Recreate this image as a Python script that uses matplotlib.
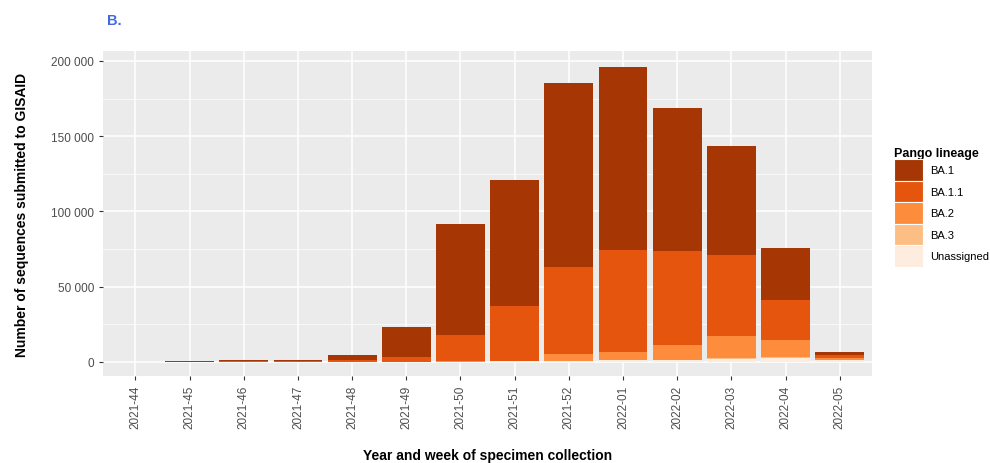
import matplotlib.pyplot as plt
import matplotlib.patches as mpatches
from matplotlib.ticker import FuncFormatter, MultipleLocator
import numpy as np

plt.rcParams["font.family"] = ["Liberation Sans", "DejaVu Sans"]

weeks = ["2021-44", "2021-45", "2021-46", "2021-47", "2021-48", "2021-49", "2021-50",
         "2021-51", "2021-52", "2022-01", "2022-02", "2022-03", "2022-04", "2022-05"]
lineages = ["BA.1", "BA.1.1", "BA.2", "BA.3", "Unassigned"]
colors = ["#A63603", "#E6550D", "#FD8D3C", "#FDBE85", "#FEEDDE"]

# counts per week, stacked bottom-up: Unassigned, BA.3, BA.2, BA.1.1, BA.1
unassigned = [150, 100, 100, 100, 100, 200, 300, 500, 800, 1000, 1200, 2200, 2900, 1500]
ba3 = [0, 0, 0, 0, 0, 0, 0, 0, 100, 100, 200, 300, 300, 100]
ba2 = [0, 0, 0, 0, 0, 100, 300, 400, 4200, 5500, 9700, 14600, 11200, 1300]
ba11 = [0, 150, 300, 500, 1400, 3200, 17500, 36100, 57900, 68000, 62700, 54200, 26800, 1700]
ba1 = [0, 350, 600, 1000, 3400, 19500, 73600, 84000, 122400, 121400, 95000, 72200, 34300, 2200]

series = {"BA.1": ba1, "BA.1.1": ba11, "BA.2": ba2, "BA.3": ba3, "Unassigned": unassigned}

fig = plt.figure(figsize=(9.9, 4.64), dpi=100)
ax = fig.add_axes([0.104, 0.1875, 0.777, 0.7005])
ax.set_facecolor("#EBEBEB")

x = np.arange(len(weeks))
bottom = np.zeros(len(weeks))
for name in ["Unassigned", "BA.3", "BA.2", "BA.1.1", "BA.1"]:
    vals = np.array(series[name], dtype=float)
    ax.bar(x, vals, 0.9, bottom=bottom, color=colors[lineages.index(name)], zorder=3)
    bottom += vals

ax.set_xlim(-0.6, 13.6)
ax.set_ylim(-9300, 206600)
ax.set_xticks(x)
ax.set_xticklabels(weeks, rotation=90, fontsize=8.5, color="#4D4D4D")
ax.yaxis.set_major_locator(MultipleLocator(50000))
ax.yaxis.set_minor_locator(MultipleLocator(25000))
ax.yaxis.set_major_formatter(FuncFormatter(lambda v, p: f"{int(v):,}".replace(",", " ")))
ax.tick_params(axis="y", labelsize=8.5, labelcolor="#4D4D4D", length=3, color="#333333")
ax.tick_params(axis="x", length=3, color="#333333")
ax.tick_params(axis="y", which="minor", length=0)
ax.grid(True, which="major", color="white", linewidth=1.1, zorder=0)
ax.grid(True, which="minor", axis="y", color="white", linewidth=0.5, zorder=0)
for s in ax.spines.values():
    s.set_visible(False)

ax.set_ylabel("Number of sequences submitted to GISAID", fontsize=10, fontweight="bold", labelpad=16)
ax.set_xlabel("Year and week of specimen collection", fontsize=10, fontweight="bold", labelpad=14)

fig.text(0.108, 0.955, "B.", color="#4169E1", fontsize=10.5, fontweight="bold", va="center")

handles = [mpatches.Patch(facecolor=c, edgecolor="white", linewidth=0.8) for c in colors]
leg = fig.legend(handles, lineages, loc="upper left", bbox_to_anchor=(0.899, 0.69),
                 frameon=False, fontsize=8, title="Pango lineage",
                 handlelength=2.6, handleheight=2.6, labelspacing=0.0,
                 handletextpad=0.6, borderaxespad=0)
leg.get_title().set_fontweight("bold")
leg.get_title().set_fontsize(9)
leg._legend_box.align = "left"

fig.savefig("out.png", dpi=100)
